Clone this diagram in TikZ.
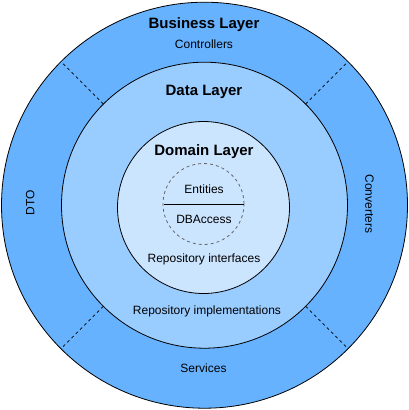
\documentclass[tikz,border=0pt]{standalone}
\usepackage{fontspec}
\setmainfont{Liberation Sans}
\definecolor{L1}{HTML}{66B2FF}
\definecolor{L2}{HTML}{99CCFF}
\definecolor{L3}{HTML}{CCE5FF}
\definecolor{G1}{HTML}{666666}
\tikzset{
  ring/.style={draw=black,line width=0.8pt},
  title/.style={anchor=base,font=\fontsize{15}{17}\selectfont\bfseries},
  caption/.style={anchor=base,font=\fontsize{12}{14}\selectfont},
  divider/.style={draw=black,line width=0.7pt,dash pattern=on 3pt off 3pt}
}
\begin{document}
\begin{tikzpicture}[x=1pt,y=-1pt]
        \useasboundingbox (0,0) rectangle (409,410);
        \coordinate (c) at (204.5,205.2);
        \fill[white] (0,0) rectangle (409,410);
        \draw [ring,fill=L1] (c) circle (203pt);
        \draw [ring,fill=L2] (c) circle (143pt);
        \foreach \a in {45,135,225,315}
            \draw [divider] (c) ++(\a:143pt) -- ++(\a:60pt);
        \draw [ring,fill=L3] (203.5,207.5) circle (86pt);
        \draw [G1,line width=0.8pt,dash pattern=on 3pt off 3pt,fill=L3] (203.5,204) circle (40.5pt);
        \coordinate (dbl) at (163.5,204.3);
        \coordinate (dbr) at (244,204.3);
        \draw [line width=0.9pt] (dbl)--(dbr);
        \node [title] (business) at (204,28.5) {Business Layer};
        \node [caption] (controllers) at (204,48.3) {Controllers};
        \node [title] (data) at (204,95) {Data Layer};
        \node [title] (domain) at (204,155.5) {Domain Layer};
        \node [caption] (entities) at (204,193.3) {Entities};
        \node [caption] (dbaccess) at (204,223) {DBAccess};
        \node [caption] (repoif) at (204,262) {Repository interfaces};
        \node [caption] (repoimpl) at (207,314.5) {Repository implementations};
        \node [caption] (services) at (203.5,372.7) {Services};
        \node [caption,anchor=center,rotate=90] (dto) at (30.3,203) {DTO};
        \node [caption,anchor=center,rotate=-90] (converters) at (369.5,204) {Converters};
    \end{tikzpicture}
\end{document}
